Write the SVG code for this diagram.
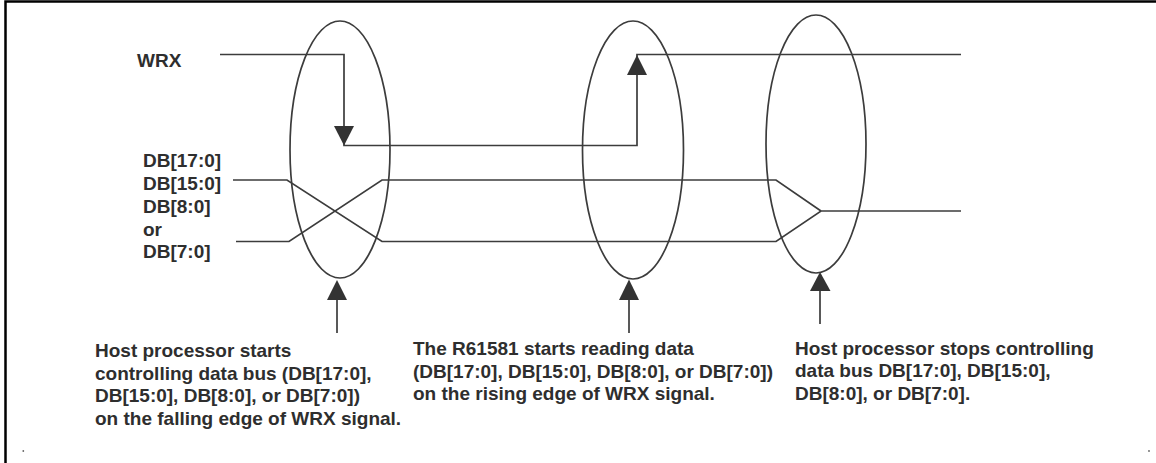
<svg xmlns="http://www.w3.org/2000/svg" width="1156" height="463" viewBox="0 0 1156 463">
<style>
.ln{fill:none;stroke:#3c3c3c;stroke-width:1.7;stroke-linejoin:miter}
.el{fill:none;stroke:#3c3c3c;stroke-width:1.7}
.ah{fill:#333333;stroke:none}
.t{font-family:"Liberation Sans",Arial,sans-serif;font-weight:bold;font-size:19px;fill:#2e2e2e}
.frame{stroke:#000;stroke-width:2.5;fill:none}
</style>
<rect width="1156" height="463" fill="#ffffff"/>
<g id="frame">
<path class="frame" d="M5.5,463 V1.5 H1156"/>
<circle cx="23.3" cy="451" r="0.9" fill="#666"/>
<circle cx="1149" cy="451" r="0.9" fill="#666"/>
</g>
<g id="ellipses">
<ellipse id="e1" class="el" cx="340" cy="149.5" rx="50" ry="128.5"/>
<ellipse id="e2" class="el" cx="633" cy="150" rx="50.5" ry="129"/>
<ellipse id="e3" class="el" cx="816" cy="144" rx="50" ry="129"/>
</g>
<g id="connectors">
<path id="wrx" class="ln" d="M220,54.5 H344 V145.5 H637 V54.5 H961"/>
<path class="ah" d="M334,126 L354,126 L344,145.5 Z"/>
<path class="ah" d="M627,75 L647,75 L637,55 Z"/>
<path id="bus-a" class="ln" d="M233,180 H287 L382,241.5 H776 L821,211 H961"/>
<path id="bus-b" class="ln" d="M236,241.5 H289 L382,180 H776 L821,211"/>
<line class="ln" x1="337" y1="299" x2="337" y2="333"/>
<path class="ah" d="M327,300 L347,300 L337,280 Z"/>
<line class="ln" x1="629" y1="299" x2="629" y2="333"/>
<path class="ah" d="M619,300 L639,300 L629,279.5 Z"/>
<line class="ln" x1="820" y1="290" x2="820" y2="324"/>
<path class="ah" d="M810,291 L830.5,291 L820,272 Z"/>
</g>
<g id="label-wrx">
<text class="t" x="137" y="67">WRX</text>
</g>
<g id="label-db">
<text class="t" x="143" y="167">DB[17:0]</text>
<text class="t" x="143" y="190">DB[15:0]</text>
<text class="t" x="143" y="212.5">DB[8:0]</text>
<text class="t" x="143" y="235.5">or</text>
<text class="t" x="143" y="258">DB[7:0]</text>
</g>
<g id="note1">
<text class="t" x="95" y="357">Host processor starts</text>
<text class="t" x="95" y="379.5">controlling data bus (DB[17:0],</text>
<text class="t" x="95" y="402">DB[15:0], DB[8:0], or DB[7:0])</text>
<text class="t" x="95" y="424.5">on the falling edge of WRX signal.</text>
</g>
<g id="note2">
<text class="t" x="413" y="355">The R61581 starts reading data</text>
<text class="t" x="413" y="377.5">(DB[17:0], DB[15:0], DB[8:0], or DB[7:0])</text>
<text class="t" x="413" y="400">on the rising edge of WRX signal.</text>
</g>
<g id="note3">
<text class="t" x="795" y="354.5">Host processor stops controlling</text>
<text class="t" x="795" y="377">data bus DB[17:0], DB[15:0],</text>
<text class="t" x="795" y="399.5">DB[8:0], or DB[7:0].</text>
</g>
</svg>
